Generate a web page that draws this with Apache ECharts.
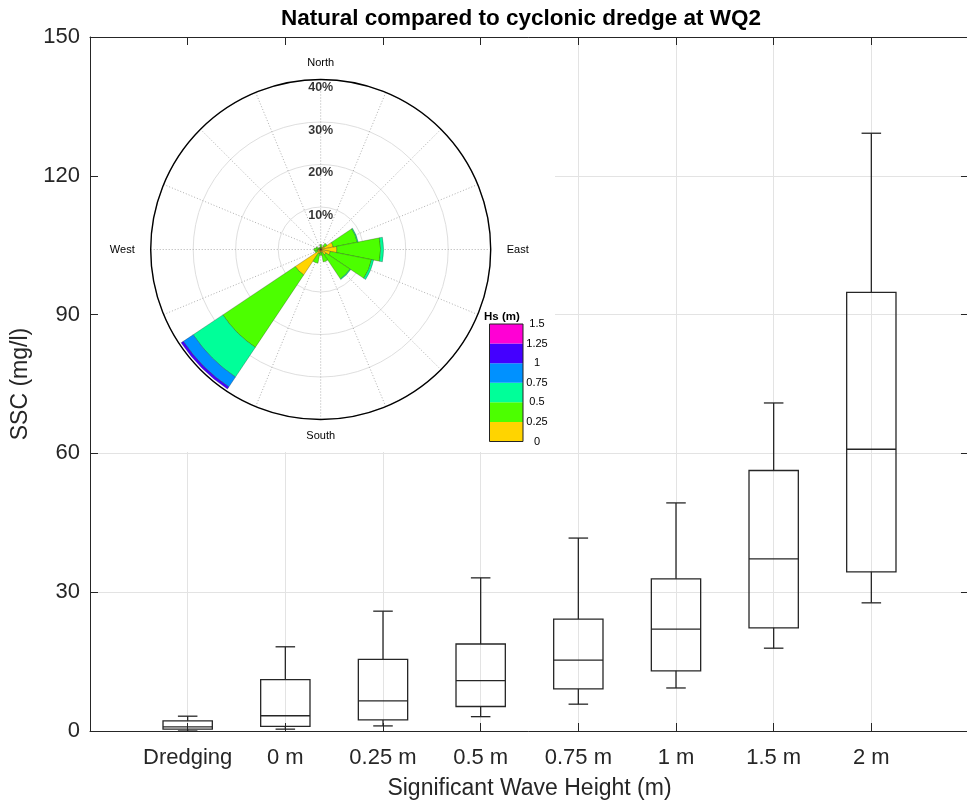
<!DOCTYPE html>
<html>
<head>
<meta charset="utf-8">
<script src="https://cdn.jsdelivr.net/npm/echarts@6/dist/echarts.min.js"></script>
<style>
  html, body { margin: 0; padding: 0; background: #ffffff; }
  #chart { width: 967px; height: 803px; }
</style>
</head>
<body>
<div id="chart"></div>
<script>
// ---- Box plot: SSC per wave-height class ----
const categories  = ['Dredging', '0 m', '0.25 m', '0.5 m', '0.75 m', '1 m', '1.5 m', '2 m'];
const whiskerLow  = [0.0, 0.4, 1.1, 3.1, 5.8, 9.3, 17.9, 27.7];
const quartile1   = [0.4, 1.0, 2.4, 5.3, 9.1, 13.0, 22.3, 34.4];
const medians     = [0.9, 3.3, 6.5, 10.9, 15.3, 22.0, 37.2, 60.9];
const quartile3   = [2.2, 11.1, 15.5, 18.8, 24.2, 32.9, 56.3, 94.8];
const whiskerHigh = [3.2, 18.2, 25.9, 33.1, 41.7, 49.3, 70.9, 129.2];
const sscMin = 0, sscMax = 150, sscStep = 30;

// ---- Wind rose: frequency (%) per direction, split by Hs class ----
const directions = ['N', 'NNE', 'NE', 'ENE', 'E', 'ESE', 'SE', 'SSE',
                    'S', 'SSW', 'SW', 'WSW', 'W', 'WNW', 'NW', 'NNW'];
const hs000to025 = [0.4, 0.4, 1.0, 3.0, 3.8, 2.3, 1.5, 0.8, 0.6, 1.0, 7.2, 0.8, 0.6, 0.4, 0.3, 0.3];
const hs025to050 = [0.8, 0.3, 0.8, 5.8, 10.3, 9.9, 6.8, 2.2, 0.8, 2.3, 20.5, 0.6, 1.0, 0.8, 0.3, 0.2];
const hs050to075 = [0, 0, 0, 0.2, 0.7, 0.5, 0.2, 0, 0, 0, 8.4, 0, 0, 0, 0, 0];
const hs075to100 = [0, 0, 0, 0, 0, 0, 0, 0, 0, 0, 2.8, 0, 0, 0, 0, 0];
const hs100to125 = [0, 0, 0, 0, 0, 0, 0, 0, 0, 0, 0.6, 0, 0, 0, 0, 0];
const hs125to150 = [0, 0, 0, 0, 0, 0, 0, 0, 0, 0, 0, 0, 0, 0, 0, 0];
const hsEdges  = [0, 0.25, 0.5, 0.75, 1, 1.25, 1.5];
const hsColors = ['#FFD400', '#4CFF00', '#00FF99', '#0091FF', '#4400FF', '#FF00D4'];
const ringPercents  = [10, 20, 30, 40];
const compassAngles = [0, 90, 180, 270];
const compassNames  = ['North', 'East', 'South', 'West'];

const FONT = 'Liberation Sans, Arial, Helvetica, sans-serif';
const INK = '#262626';
const roseCenter = [320.7, 249.5];
const roseRadius = 170;

const boxData = categories.map((c, i) =>
  [i + 1, whiskerLow[i], quartile1[i], medians[i], quartile3[i], whiskerHigh[i]]);

function renderBox(params, api) {
  const x = api.value(0);
  const lo = api.coord([x, api.value(1)]);
  const q1 = api.coord([x, api.value(2)]);
  const md = api.coord([x, api.value(3)]);
  const q3 = api.coord([x, api.value(4)]);
  const hi = api.coord([x, api.value(5)]);
  const unit = api.size([1, 0])[0];
  const bw = unit * 0.505;
  const cw = unit * 0.2;
  const cx = lo[0];
  const style = { stroke: INK, lineWidth: 1.3, fill: 'none' };
  return {
    type: 'group',
    children: [
      { type: 'line', shape: { x1: cx, y1: hi[1], x2: cx, y2: q3[1] }, style },
      { type: 'line', shape: { x1: cx, y1: q1[1], x2: cx, y2: lo[1] }, style },
      { type: 'line', shape: { x1: cx - cw / 2, y1: hi[1], x2: cx + cw / 2, y2: hi[1] }, style },
      { type: 'line', shape: { x1: cx - cw / 2, y1: lo[1], x2: cx + cw / 2, y2: lo[1] }, style },
      { type: 'rect', shape: { x: cx - bw / 2, y: q3[1], width: bw, height: q1[1] - q3[1] }, style },
      { type: 'line', shape: { x1: cx - bw / 2, y1: md[1], x2: cx + bw / 2, y2: md[1] }, style }
    ]
  };
}

const hsBins = [hs000to025, hs025to050, hs050to075, hs075to100, hs100to125, hs125to150];
const roseSeries = hsBins.map((vals, k) => ({
  type: 'bar',
  name: hsEdges[k] + '-' + hsEdges[k + 1],
  coordinateSystem: 'polar',
  polarIndex: 1,
  stack: 'rose',
  barCategoryGap: '0%',
  data: vals.map(v => (v > 0 ? v : '-')),
  itemStyle: { color: hsColors[k], borderColor: 'rgba(30,30,30,0.55)', borderWidth: 0.5 },
  z: 3
}));

const colorbarSeries = hsColors.map((col, k) => ({
  type: 'bar',
  xAxisIndex: 2,
  yAxisIndex: 2,
  stack: 'colorbar',
  barWidth: '100%',
  data: [hsEdges[k + 1] - hsEdges[k]],
  itemStyle: { color: col },
  z: 3
}));

const chart = echarts.init(document.getElementById('chart'), null, { renderer: 'canvas' });

chart.setOption({
  animation: false,
  backgroundColor: '#ffffff',
  textStyle: { fontFamily: FONT },
  title: [
    {
      text: 'Natural compared to cyclonic dredge at WQ2',
      left: 521, top: 7, padding: 0, textAlign: 'center',
      textStyle: { fontFamily: FONT, fontSize: 22.5, fontWeight: 'bold', color: '#000' }
    },
    {
      text: 'Hs (m)',
      left: 484, top: 311, padding: 0,
      textStyle: { fontFamily: FONT, fontSize: 11.5, fontWeight: 'bold', color: '#000' }
    }
  ],
  grid: [
    { left: 90, right: -2, top: 37, bottom: 72, outerBoundsMode: 'none', containLabel: false },
    { left: 489.5, top: 324, width: 33.5, height: 117.5, show: true, outerBoundsMode: 'none',
      backgroundColor: 'transparent', borderColor: '#222', borderWidth: 1, z: 10 }
  ],
  xAxis: [
    {
      gridIndex: 0, type: 'value', min: 0, max: 9, interval: 1,
      name: 'Significant Wave Height (m)', nameLocation: 'middle', nameGap: 46,
      nameTextStyle: { fontFamily: FONT, fontSize: 23, color: INK },
      axisLine: { onZero: false, lineStyle: { color: INK, width: 1 } },
      axisTick: { inside: true, length: 8, lineStyle: { color: INK } },
      axisLabel: {
        fontFamily: FONT, fontSize: 22, color: INK, margin: 16,
        formatter: v => categories[v - 1] || ''
      },
      splitLine: { show: true, lineStyle: { color: '#e3e3e3', width: 1 } }
    },
    {
      gridIndex: 0, type: 'value', min: 0, max: 9, interval: 1, position: 'top',
      axisLine: { onZero: false, lineStyle: { color: INK, width: 1 } },
      axisTick: { inside: true, length: 8, lineStyle: { color: INK } },
      axisLabel: { show: false },
      splitLine: { show: false }
    },
    { gridIndex: 1, type: 'category', data: ['Hs'], show: false }
  ],
  yAxis: [
    {
      gridIndex: 0, type: 'value', min: sscMin, max: sscMax, interval: sscStep,
      name: 'SSC (mg/l)', nameLocation: 'middle', nameGap: 55,
      nameTextStyle: { fontFamily: FONT, fontSize: 23, color: INK },
      axisLine: { show: true, onZero: false, lineStyle: { color: INK, width: 1 } },
      axisTick: { show: true, inside: true, length: 8, lineStyle: { color: INK } },
      axisLabel: { fontFamily: FONT, fontSize: 22, color: INK, margin: 10 },
      splitLine: { show: true, lineStyle: { color: '#e3e3e3', width: 1 } }
    },
    {
      gridIndex: 0, type: 'value', min: sscMin, max: sscMax, interval: sscStep, position: 'right',
      axisLine: { show: true, onZero: false, lineStyle: { color: INK, width: 1 } },
      axisTick: { show: true, inside: true, length: 8, lineStyle: { color: INK } },
      axisLabel: { show: false },
      splitLine: { show: false }
    },
    {
      gridIndex: 1, type: 'value', min: hsEdges[0], max: hsEdges[hsEdges.length - 1], interval: 0.25,
      position: 'right', z: 5,
      axisLine: { show: false, onZero: false }, axisTick: { show: false }, splitLine: { show: false },
      axisLabel: { fontFamily: FONT, fontSize: 11, color: '#000', margin: 14, align: 'center' }
    }
  ],
  polar: [
    { center: roseCenter, radius: roseRadius },
    { center: roseCenter, radius: roseRadius }
  ],
  angleAxis: [
    {
      polarIndex: 0, type: 'value', min: 0, max: 360, interval: 22.5,
      startAngle: 90, clockwise: true, z: 2,
      axisLine: { lineStyle: { color: '#000', width: 1.4 } },
      axisTick: { show: false },
      axisLabel: {
        margin: 11, fontFamily: FONT, fontSize: 11, color: '#000',
        formatter: v => {
          const i = compassAngles.indexOf(v);
          return i >= 0 ? '{c|' + compassNames[i] + '}' : '';
        },
        rich: { c: { fontFamily: FONT, fontSize: 11, color: '#000', padding: [0, 5, 0, 5] } }
      },
      splitLine: { show: true, lineStyle: { color: '#9a9a9a', width: 0.8, type: [1, 2] } }
    },
    {
      polarIndex: 1, type: 'category', data: directions,
      startAngle: 90 + 180 / directions.length, clockwise: true, show: false
    }
  ],
  radiusAxis: [
    {
      polarIndex: 0, type: 'value', min: 0, max: ringPercents[ringPercents.length - 1], interval: 10, z: 2,
      axisLine: { show: false }, axisTick: { show: false }, axisLabel: { show: false },
      splitLine: { show: true, lineStyle: { color: '#dadada', width: 0.9 } }
    },
    { polarIndex: 1, type: 'value', min: 0, max: ringPercents[ringPercents.length - 1], show: false }
  ],
  graphic: [
    {
      type: 'rect', silent: true, z: 1,
      shape: { x: 98, y: 45, width: 457, height: 407 },
      style: { fill: '#ffffff' }
    }
  ],
  series: [
    {
      type: 'custom', name: 'SSC', xAxisIndex: 0, yAxisIndex: 0,
      renderItem: renderBox, data: boxData, z: 3
    },
    ...roseSeries,
    {
      type: 'scatter', coordinateSystem: 'polar', polarIndex: 0,
      symbol: 'circle', symbolSize: 1, itemStyle: { color: 'transparent' },
      data: ringPercents.map(p => [p - 2, 0]),
      label: {
        show: true, position: 'inside',
        formatter: p => ringPercents[p.dataIndex] + '%',
        fontFamily: FONT, fontSize: 12.5, fontWeight: 'bold', color: '#000'
      },
      z: 10
    },
    ...colorbarSeries
  ]
});
</script>
</body>
</html>
